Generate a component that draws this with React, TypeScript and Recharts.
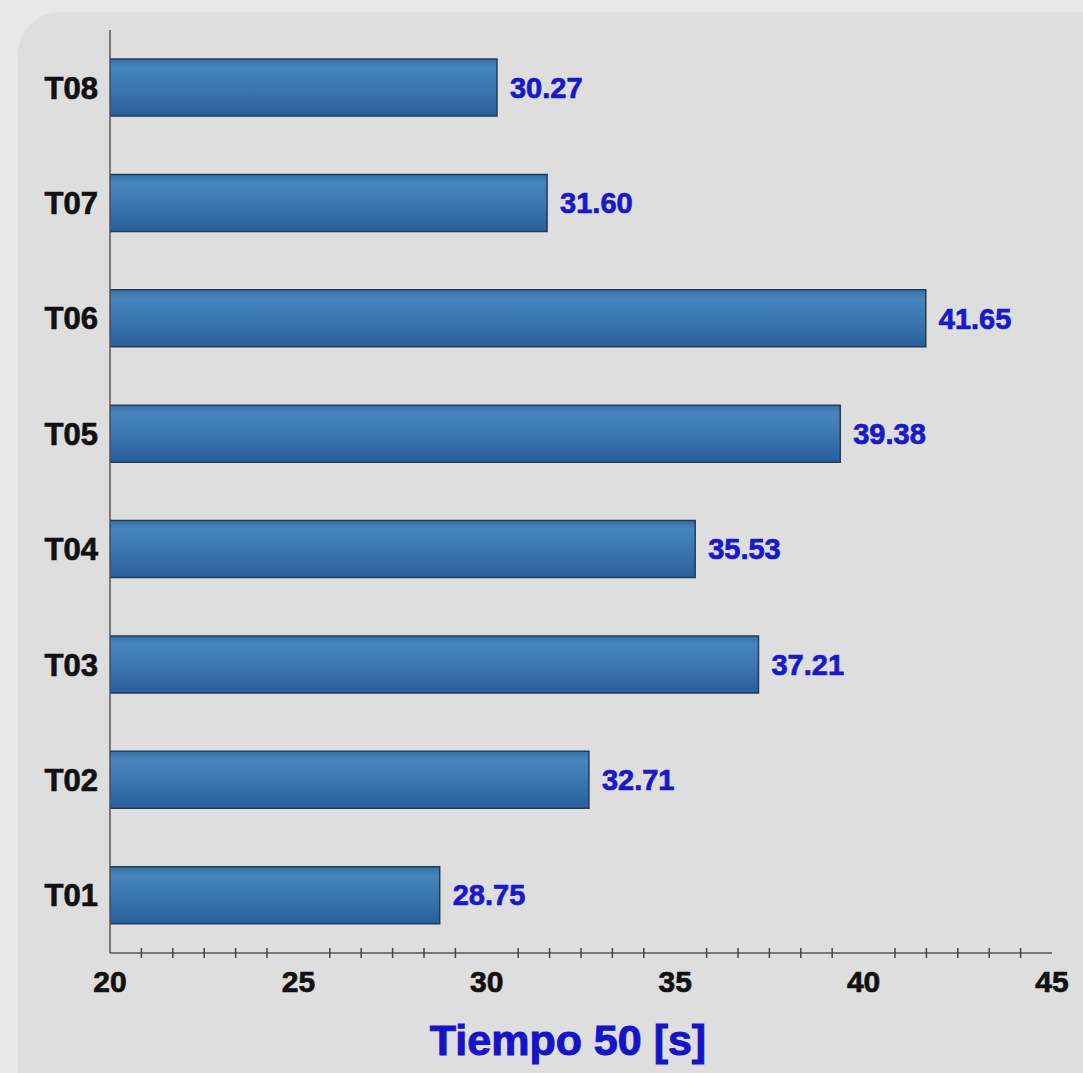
import { BarChart, Bar, XAxis, YAxis, LabelList, Label } from 'recharts';

const categories = ['T01', 'T02', 'T03', 'T04', 'T05', 'T06', 'T07', 'T08'];
const tiempos = [28.75, 32.71, 37.21, 35.53, 39.38, 41.65, 31.6, 30.27];
const majorTicks = [20, 25, 30, 35, 40, 45];
const minorPerMajor = 6;

const data = categories.map((name, i) => ({ name, value: tiempos[i] }));

// minor tick marks between each labelled value
const minorTicks: number[] = [];
majorTicks.slice(0, -1).forEach((t, i) => {
  const step = (majorTicks[i + 1] - t) / minorPerMajor;
  for (let k = 1; k < minorPerMajor; k++) minorTicks.push(t + k * step);
});
const allTicks = [...majorTicks, ...minorTicks].sort((a, b) => a - b);

const FONT = '"Liberation Sans", Arial, sans-serif';

const XTick = (props: any) => {
  const { x, y, payload } = props;
  const v = payload.value;
  if (majorTicks.includes(v)) {
    return (
      <text
        x={x}
        y={y + 39}
        textAnchor="middle"
        fontFamily={FONT}
        fontWeight="bold"
        fontSize={30}
        fill="#111"
        stroke="#111"
        strokeWidth={0.7}
      >
        {v}
      </text>
    );
  }
  return <line x1={x} x2={x} y1={y - 5} y2={y + 5} stroke="#444" strokeWidth={1.5} />;
};

const App = () => (
  <div style={{ position: 'absolute', left: 0, top: 0, width: 1083, height: 1073, background: '#e8e8e8', overflow: 'hidden' }}>
    <div
      style={{
        position: 'absolute',
        left: 18,
        top: 12,
        width: 1110,
        height: 1100,
        borderRadius: 42,
        background: '#dedede',
      }}
    />
    <div style={{ position: 'absolute', left: 0, top: 0 }}>
      <BarChart
        width={1083}
        height={1073}
        data={data}
        layout="vertical"
        margin={{ top: 30, right: 31, left: 0, bottom: 0 }}
      >
        <defs>
          <linearGradient id="barFill" x1="0" y1="0" x2="0" y2="1">
            <stop offset="0%" stopColor="#386fa6" />
            <stop offset="15%" stopColor="#4785be" />
            <stop offset="60%" stopColor="#3873ad" />
            <stop offset="100%" stopColor="#285e9c" />
          </linearGradient>
        </defs>
        <XAxis
          type="number"
          domain={[20, 45]}
          ticks={allTicks}
          interval={0}
          allowDataOverflow
          height={120}
          tickLine={false}
          tickSize={0}
          tickMargin={0}
          tick={<XTick />}
          axisLine={{ stroke: '#555', strokeWidth: 1.5 }}
        >
          <Label
            value="Tiempo 50 [s]"
            position="insideBottom"
            offset={18}
            dx={-13}
            fill="#1414c8"
            stroke="#1414c8"
            strokeWidth={1}
            fontFamily={FONT}
            fontWeight="bold"
            fontSize={43}
          />
        </XAxis>
        <YAxis
          type="category"
          dataKey="name"
          reversed
          width={110}
          tickLine={false}
          tickSize={0}
          tickMargin={12}
          axisLine={{ stroke: '#555', strokeWidth: 1.5 }}
          tick={{ fill: '#111', stroke: '#111', strokeWidth: 0.7, fontFamily: FONT, fontWeight: 'bold', fontSize: 31 }}
        />
        <Bar
          dataKey="value"
          barSize={57}
          fill="url(#barFill)"
          stroke="#223c58"
          strokeWidth={1.5}
          isAnimationActive={false}
        >
          <LabelList
            dataKey="value"
            position="right"
            offset={13}
            formatter={(v: any) => Number(v).toFixed(2)}
            fill="#1818cc"
            stroke="#1818cc"
            strokeWidth={0.7}
            fontFamily={FONT}
            fontWeight="bold"
            fontSize={29}
          />
        </Bar>
      </BarChart>
    </div>
  </div>
);

export default App;
